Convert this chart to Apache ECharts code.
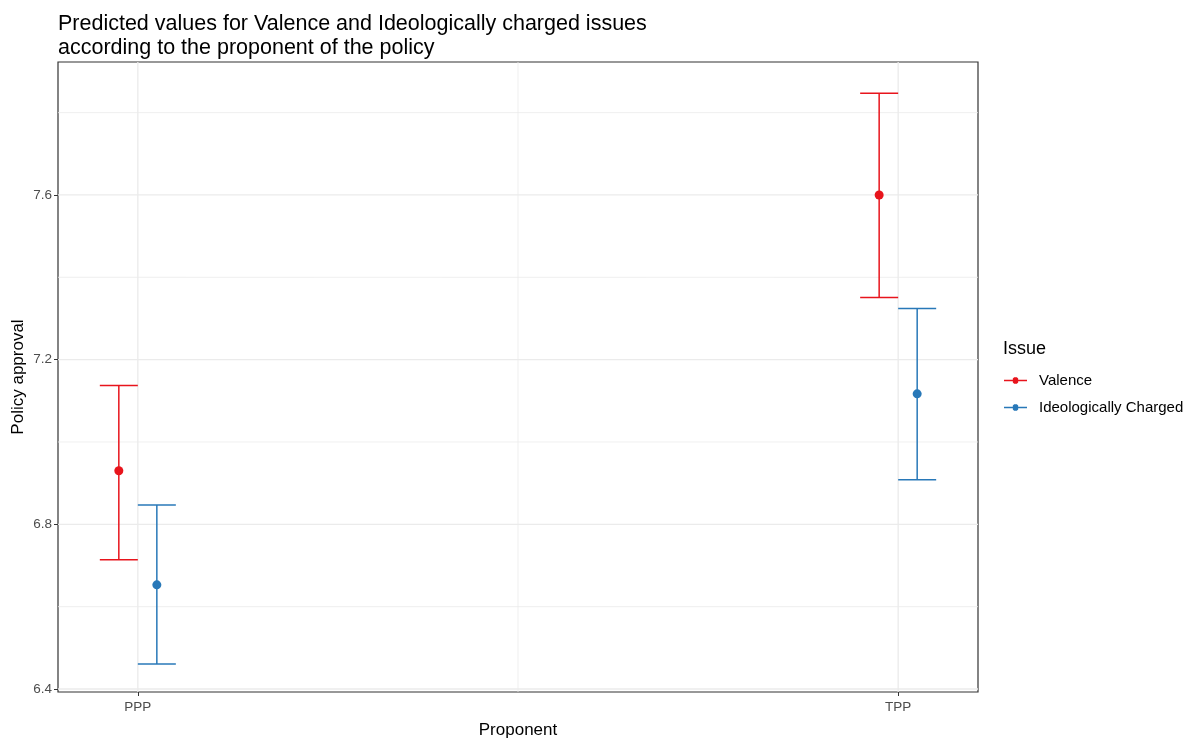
<!DOCTYPE html>
<html>
<head>
<meta charset="utf-8">
<script src="https://cdn.jsdelivr.net/npm/echarts@6/dist/echarts.min.js"></script>
<style>html,body{margin:0;padding:0;background:#fff}#c{width:1192px;height:741px}</style>
</head>
<body>
<div id="c"></div>
<script>
const categories = ['PPP', 'TPP'];
const seriesNames = ['Valence', 'Ideologically Charged'];
const valenceMean = [6.930, 7.600];
const valenceLow = [6.714, 7.351];
const valenceHigh = [7.137, 7.847];
const ideoMean = [6.653, 7.117];
const ideoLow = [6.461, 6.908];
const ideoHigh = [6.847, 7.324];
const yTicks = [6.4, 6.8, 7.2, 7.6];
const yMinorGrid = [6.6, 7.0, 7.4, 7.8];
const xMinorGrid = [1.5];

const colors = ['#E8141C', '#2878B8'];
const dodge = 0.025;
const capHalf = 19;
const FONT = 'Liberation Sans, Arial, sans-serif';

function errSeries(name, low, high, off, color) {
  const data = categories.map((c, i) => [i + 1 + off, low[i], high[i]]);
  return {
    type: 'custom', name: name, z: 3,
    data: data,
    renderItem: function (params, api) {
      const x = api.value(0);
      const lo = api.coord([x, api.value(1)]);
      const hi = api.coord([x, api.value(2)]);
      const st = { stroke: color, lineWidth: 1.5 };
      return {
        type: 'group', children: [
          { type: 'line', shape: { x1: lo[0], y1: lo[1], x2: hi[0], y2: hi[1] }, style: st },
          { type: 'line', shape: { x1: lo[0] - capHalf, y1: lo[1], x2: lo[0] + capHalf, y2: lo[1] }, style: st },
          { type: 'line', shape: { x1: hi[0] - capHalf, y1: hi[1], x2: hi[0] + capHalf, y2: hi[1] }, style: st }
        ]
      };
    }
  };
}
function pointSeries(name, mean, off, color) {
  return {
    type: 'scatter', name: name, z: 4,
    symbol: 'circle', symbolSize: 9,
    itemStyle: { color: color, opacity: 1 },
    data: categories.map((c, i) => [i + 1 + off, mean[i]])
  };
}

const gridColor = '#EBEBEB';
const gridSeries = {
  type: 'custom', name: 'grid', z: 1, silent: true,
  data: [[1, 7]],
  renderItem: function (params, api) {
    const cs = params.coordSys;
    const children = [];
    const vline = (v, w) => {
      const p = api.coord([v, 7]);
      children.push({ type: 'line', shape: { x1: p[0], y1: cs.y, x2: p[0], y2: cs.y + cs.height }, style: { stroke: gridColor, lineWidth: w } });
    };
    const hline = (v, w) => {
      const p = api.coord([1, v]);
      children.push({ type: 'line', shape: { x1: cs.x, y1: p[1], x2: cs.x + cs.width, y2: p[1] }, style: { stroke: gridColor, lineWidth: w } });
    };
    yMinorGrid.forEach(v => hline(v, 0.8));
    xMinorGrid.forEach(v => vline(v, 0.8));
    yTicks.forEach(v => hline(v, 1.3));
    categories.forEach((c, i) => vline(i + 1, 1.3));
    return { type: 'group', children: children };
  }
};

const iconPath = 'path://M0,4.3 L24,4.3 L24,5.7 L0,5.7 Z M9.2,3 L10.6,1.6 L13.4,1.6 L14.8,3 L14.8,7 L13.4,8.4 L10.6,8.4 L9.2,7 Z';

const chart = echarts.init(document.getElementById('c'), null, { renderer: 'canvas' });
chart.setOption({
  animation: false,
  backgroundColor: '#fff',
  textStyle: { fontFamily: FONT },
  title: [
    { text: 'Predicted values for Valence and Ideologically charged issues\naccording to the proponent of the policy',
      left: 53, top: 7,
      textStyle: { fontSize: 21.5, fontWeight: 'normal', color: '#000', lineHeight: 24, fontFamily: FONT } },
    { text: 'Issue', left: 998, top: 335,
      textStyle: { fontSize: 18, fontWeight: 'normal', color: '#000', fontFamily: FONT } }
  ],
  legend: {
    orient: 'vertical', left: 999, top: 368,
    itemWidth: 23, itemHeight: 10, itemGap: 12,
    data: seriesNames.map((n, i) => ({ name: n, icon: iconPath, itemStyle: { color: colors[i] } })),
    textStyle: { fontSize: 15, color: '#000', padding: [0, 0, 0, 7], fontFamily: FONT },
    selectedMode: false
  },
  grid: { left: 58, right: 214, top: 62, bottom: 49, show: true, borderColor: '#333', borderWidth: 1.2, backgroundColor: 'transparent', outerBoundsMode: 'none', containLabel: false },
  xAxis: {
    type: 'value', min: 0.895, max: 2.105,
    name: 'Proponent', nameLocation: 'middle', nameGap: 30, nameMoveOverlap: false,
    nameTextStyle: { fontSize: 17, color: '#000', fontFamily: FONT },
    axisLine: { show: false },
    axisTick: { show: true, customValues: [1, 2], length: 4, lineStyle: { color: '#333' } },
    axisLabel: { customValues: [1, 2], formatter: v => categories[Math.round(v) - 1], fontSize: 13.5, color: '#4D4D4D', margin: 8, fontFamily: FONT },
    splitLine: { show: false }
  },
  yAxis: {
    type: 'value', min: 6.3927, max: 7.923,
    name: 'Policy approval', nameLocation: 'middle', nameGap: 31, nameRotate: 90, nameMoveOverlap: false,
    nameTextStyle: { fontSize: 17, color: '#000', fontFamily: FONT },
    axisLine: { show: false },
    axisTick: { show: true, customValues: yTicks, length: 4, lineStyle: { color: '#333' } },
    axisLabel: { customValues: yTicks, formatter: v => v.toFixed(1), fontSize: 13.5, color: '#4D4D4D', margin: 6, fontFamily: FONT },
    splitLine: { show: false }
  },
  series: [
    gridSeries,
    errSeries(seriesNames[0], valenceLow, valenceHigh, -dodge, colors[0]),
    errSeries(seriesNames[1], ideoLow, ideoHigh, dodge, colors[1]),
    pointSeries(seriesNames[0], valenceMean, -dodge, colors[0]),
    pointSeries(seriesNames[1], ideoMean, dodge, colors[1])
  ]
});
</script>
</body>
</html>
